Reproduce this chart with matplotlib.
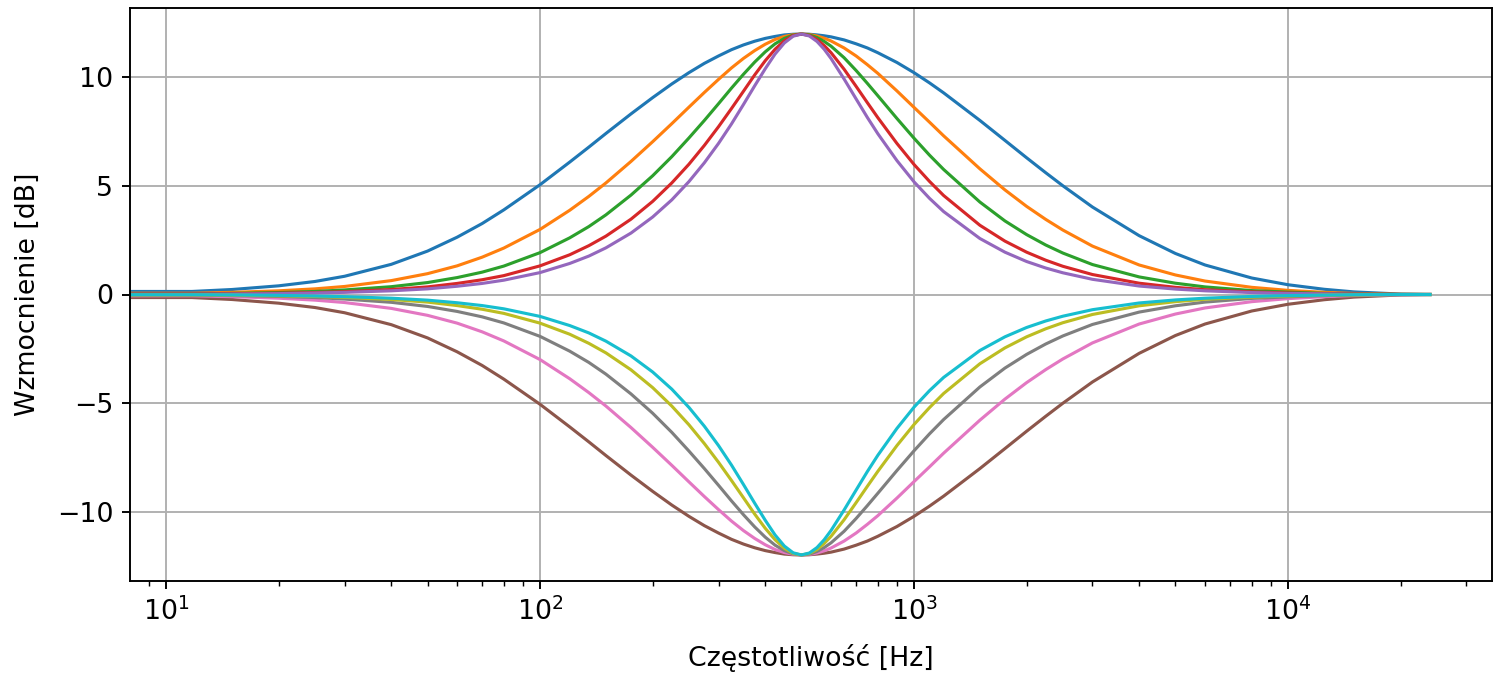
#!/usr/bin/env python3
"""
Peaking EQ family: +/-12 dB at 500 Hz for five bandwidths.
Values read off the reference plot (fs = 48 kHz, so curves die out at Nyquist).
The 0 Hz point is kept on purpose: the log axis clips it, so lines run to the left edge.
"""

import matplotlib
matplotlib.use("Agg")
import matplotlib.pyplot as plt

# Frequency points [Hz]
freq_hz = [0, 11.72, 15, 20, 25, 30, 40, 50, 60, 70,
           80, 100, 120, 135, 150, 175, 200, 225, 250, 275,
           300, 325, 350, 375, 400, 425, 450, 475, 500, 525,
           550, 575, 600, 650, 700, 750, 800, 900, 1000, 1100,
           1200, 1500, 1750, 2000, 2250, 2500, 3000, 4000, 5000, 6000,
           8000, 10000, 12500, 15000, 20000, 23988]

# Boost curves [dB], widest to narrowest
boost_1 = [0.00, 0.14, 0.23, 0.40, 0.60, 0.84, 1.39, 2.00, 2.64, 3.27,
           3.90, 5.06, 6.10, 6.79, 7.42, 8.32, 9.07, 9.70, 10.22, 10.65,
           10.99, 11.28, 11.50, 11.67, 11.80, 11.89, 11.96, 11.99, 12.00, 11.99,
           11.96, 11.92, 11.87, 11.73, 11.55, 11.36, 11.14, 10.69, 10.22, 9.75,
           9.29, 8.02, 7.10, 6.30, 5.61, 5.01, 4.03, 2.71, 1.89, 1.36,
           0.76, 0.45, 0.24, 0.12, 0.02, 0.00]
boost_2 = [0.00, 0.06, 0.10, 0.17, 0.26, 0.37, 0.64, 0.96, 1.32, 1.72,
           2.14, 3.00, 3.88, 4.52, 5.14, 6.13, 7.04, 7.87, 8.63, 9.31,
           9.91, 10.44, 10.88, 11.24, 11.53, 11.75, 11.89, 11.97, 12.00, 11.98,
           11.91, 11.81, 11.68, 11.36, 10.99, 10.59, 10.19, 9.38, 8.62, 7.94,
           7.31, 5.79, 4.82, 4.06, 3.46, 2.97, 2.23, 1.36, 0.90, 0.62,
           0.33, 0.19, 0.10, 0.05, 0.01, 0.00]
boost_3 = [0.00, 0.03, 0.05, 0.09, 0.14, 0.21, 0.36, 0.55, 0.78, 1.03,
           1.31, 1.93, 2.61, 3.13, 3.67, 4.58, 5.47, 6.35, 7.21, 8.02,
           8.79, 9.51, 10.15, 10.71, 11.18, 11.55, 11.80, 11.95, 12.00, 11.96,
           11.84, 11.66, 11.44, 10.91, 10.32, 9.73, 9.16, 8.11, 7.20, 6.42,
           5.76, 4.26, 3.39, 2.76, 2.28, 1.91, 1.38, 0.81, 0.52, 0.35,
           0.18, 0.11, 0.05, 0.03, 0.00, 0.00]
boost_4 = [0.00, 0.02, 0.03, 0.06, 0.09, 0.13, 0.23, 0.35, 0.51, 0.68,
           0.87, 1.32, 1.83, 2.25, 2.69, 3.47, 4.29, 5.14, 6.00, 6.87,
           7.73, 8.57, 9.37, 10.12, 10.77, 11.30, 11.69, 11.93, 12.00, 11.93,
           11.75, 11.47, 11.14, 10.38, 9.59, 8.84, 8.15, 6.96, 5.99, 5.21,
           4.56, 3.19, 2.46, 1.95, 1.58, 1.30, 0.92, 0.52, 0.33, 0.22,
           0.12, 0.07, 0.03, 0.02, 0.00, 0.00]
boost_5 = [0.00, 0.01, 0.02, 0.04, 0.07, 0.10, 0.17, 0.26, 0.38, 0.51,
           0.66, 1.01, 1.43, 1.77, 2.15, 2.83, 3.57, 4.36, 5.20, 6.07,
           6.96, 7.86, 8.76, 9.62, 10.40, 11.08, 11.59, 11.90, 12.00, 11.91,
           11.66, 11.30, 10.87, 9.93, 9.01, 8.16, 7.41, 6.17, 5.19, 4.43,
           3.82, 2.58, 1.95, 1.52, 1.22, 1.00, 0.70, 0.39, 0.25, 0.17,
           0.09, 0.05, 0.03, 0.01, 0.00, 0.00]

# Cut curves [dB], widest to narrowest
cut_1 = [0.00, -0.14, -0.23, -0.40, -0.60, -0.84, -1.39, -2.00, -2.64, -3.27,
         -3.90, -5.06, -6.10, -6.79, -7.42, -8.32, -9.07, -9.70, -10.22, -10.65,
         -10.99, -11.28, -11.50, -11.67, -11.80, -11.89, -11.96, -11.99, -12.00, -11.99,
         -11.96, -11.92, -11.87, -11.73, -11.55, -11.36, -11.14, -10.69, -10.22, -9.75,
         -9.29, -8.02, -7.10, -6.30, -5.61, -5.01, -4.03, -2.71, -1.89, -1.36,
         -0.76, -0.45, -0.24, -0.12, -0.02, 0.00]
cut_2 = [0.00, -0.06, -0.10, -0.17, -0.26, -0.37, -0.64, -0.96, -1.32, -1.72,
         -2.14, -3.00, -3.88, -4.52, -5.14, -6.13, -7.04, -7.87, -8.63, -9.31,
         -9.91, -10.44, -10.88, -11.24, -11.53, -11.75, -11.89, -11.97, -12.00, -11.98,
         -11.91, -11.81, -11.68, -11.36, -10.99, -10.59, -10.19, -9.38, -8.62, -7.94,
         -7.31, -5.79, -4.82, -4.06, -3.46, -2.97, -2.23, -1.36, -0.90, -0.62,
         -0.33, -0.19, -0.10, -0.05, -0.01, 0.00]
cut_3 = [0.00, -0.03, -0.05, -0.09, -0.14, -0.21, -0.36, -0.55, -0.78, -1.03,
         -1.31, -1.93, -2.61, -3.13, -3.67, -4.58, -5.47, -6.35, -7.21, -8.02,
         -8.79, -9.51, -10.15, -10.71, -11.18, -11.55, -11.80, -11.95, -12.00, -11.96,
         -11.84, -11.66, -11.44, -10.91, -10.32, -9.73, -9.16, -8.11, -7.20, -6.42,
         -5.76, -4.26, -3.39, -2.76, -2.28, -1.91, -1.38, -0.81, -0.52, -0.35,
         -0.18, -0.11, -0.05, -0.03, 0.00, 0.00]
cut_4 = [0.00, -0.02, -0.03, -0.06, -0.09, -0.13, -0.23, -0.35, -0.51, -0.68,
         -0.87, -1.32, -1.83, -2.25, -2.69, -3.47, -4.29, -5.14, -6.00, -6.87,
         -7.73, -8.57, -9.37, -10.12, -10.77, -11.30, -11.69, -11.93, -12.00, -11.93,
         -11.75, -11.47, -11.14, -10.38, -9.59, -8.84, -8.15, -6.96, -5.99, -5.21,
         -4.56, -3.19, -2.46, -1.95, -1.58, -1.30, -0.92, -0.52, -0.33, -0.22,
         -0.12, -0.07, -0.03, -0.02, 0.00, 0.00]
cut_5 = [0.00, -0.01, -0.02, -0.04, -0.07, -0.10, -0.17, -0.26, -0.38, -0.51,
         -0.66, -1.01, -1.43, -1.77, -2.15, -2.83, -3.57, -4.36, -5.20, -6.07,
         -6.96, -7.86, -8.76, -9.62, -10.40, -11.08, -11.59, -11.90, -12.00, -11.91,
         -11.66, -11.30, -10.87, -9.93, -9.01, -8.16, -7.41, -6.17, -5.19, -4.43,
         -3.82, -2.58, -1.95, -1.52, -1.22, -1.00, -0.70, -0.39, -0.25, -0.17,
         -0.09, -0.05, -0.03, -0.01, 0.00, 0.00]

X_LABEL = "Częstotliwość [Hz]"
Y_LABEL = "Wzmocnienie [dB]"


def create_eq_plot(output_file="out.png"):
    """Draw all boost and cut responses on one log-frequency axis"""
    plt.rcParams['font.size'] = 11.2
    dpi = 172
    fig = plt.figure(figsize=(1495 / dpi, 675 / dpi), dpi=dpi)
    # axes box placed to match the reference pixels
    ax = fig.add_axes([130 / 1495, 94 / 675, 1362 / 1495, 573 / 675])

    # boosts first (C0-C4), then cuts (C5-C9), same as default colour cycle
    for curve in [boost_1, boost_2, boost_3, boost_4, boost_5,
                  cut_1, cut_2, cut_3, cut_4, cut_5]:
        ax.semilogx(freq_hz, curve, linewidth=1.3)

    ax.set_xlabel(X_LABEL, labelpad=7.5)
    ax.set_ylabel(Y_LABEL, labelpad=6.5)
    ax.set_yticks([-10, -5, 0, 5, 10])
    ax.grid(True)

    fig.savefig(output_file, dpi=dpi)
    plt.close(fig)


if __name__ == "__main__":
    create_eq_plot()
